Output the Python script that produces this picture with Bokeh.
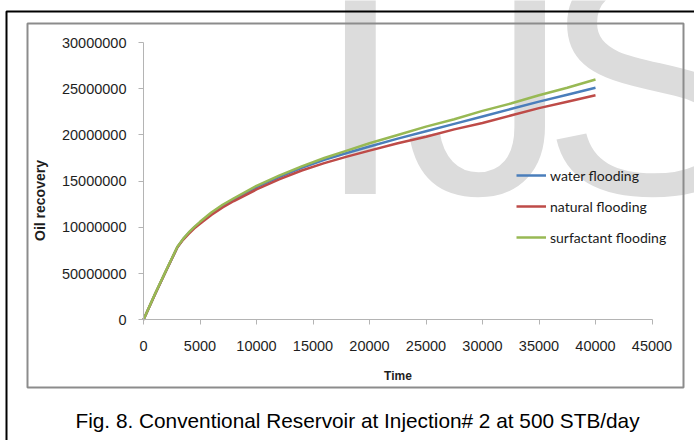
import math
from bokeh.plotting import figure
from bokeh.models import FixedTicker, BoxAnnotation, Label, Legend, Range1d
from bokeh.embed import file_html
from bokeh.resources import INLINE

# ---- data ----
time = [0, 1000, 2000, 3000, 3500, 4000, 4500, 5000, 6000, 7000, 8000, 10000, 12000, 14000,
        16000, 18000, 20000, 22500, 25000, 27500, 30000, 32500, 35000, 37500, 40000]
water = [0, 2.7e6, 5.3e6, 7.85e6, 8.7e6, 9.4e6, 10.0e6, 10.5e6, 11.5e6, 12.35e6, 13.05e6, 14.35e6,
         15.45e6, 16.45e6, 17.3e6, 18.05e6, 18.75e6, 19.6e6, 20.4e6, 21.2e6, 22.0e6, 22.8e6,
         23.6e6, 24.35e6, 25.1e6]
natural = [0, 2.7e6, 5.3e6, 7.85e6, 8.65e6, 9.3e6, 9.9e6, 10.4e6, 11.35e6, 12.15e6, 12.85e6, 14.1e6,
           15.2e6, 16.15e6, 16.95e6, 17.65e6, 18.3e6, 19.1e6, 19.8e6, 20.6e6, 21.3e6, 22.1e6,
           22.9e6, 23.6e6, 24.3e6]
surfactant = [0, 2.75e6, 5.35e6, 7.9e6, 8.75e6, 9.45e6, 10.05e6, 10.6e6, 11.6e6, 12.45e6, 13.15e6, 14.5e6,
              15.6e6, 16.6e6, 17.5e6, 18.3e6, 19.1e6, 20.0e6, 20.9e6, 21.7e6, 22.6e6, 23.4e6,
              24.3e6, 25.1e6, 26.0e6]

x_ticks = [0, 5000, 10000, 15000, 20000, 25000, 30000, 35000, 40000, 45000]
y_ticks = [0, 5000000, 10000000, 15000000, 20000000, 25000000, 30000000]
y_tick_labels = ["0", "50000000", "10000000", "15000000", "20000000", "25000000", "30000000"]
series_names = ["water flooding", "natural flooding", "surfactant flooding"]
series_colors = ["#4a7ebb", "#be4b48", "#98b954"]
x_title = "Time"
y_title = "Oil recovery"
caption = "Fig. 8. Conventional Reservoir at Injection# 2 at 500 STB/day"

# ---- layout (pixels) ----
W, H = 694, 440
X0_PX, X1_PX = 143.0, 651.5      # x = 0 and x = 45000
Y0_PX, Y1_PX = 319.3, 42.0       # y = 0 and y = 30M (from top)
x_min, x_max = x_ticks[0], x_ticks[-1]
y_min, y_max = y_ticks[0], y_ticks[-1]
sx = (X1_PX - X0_PX) / (x_max - x_min)
sy = (Y0_PX - Y1_PX) / (y_max - y_min)
xr = Range1d(x_min - X0_PX / sx, x_max + (W - X1_PX) / sx)
yr = Range1d(y_min - (H - Y0_PX) / sy, y_max + Y1_PX / sy)

p = figure(width=W, height=H, output_backend="svg", toolbar_location=None,
           x_range=xr, y_range=yr, min_border=0,
           min_border_left=0, min_border_right=0, min_border_top=0, min_border_bottom=0)
p.outline_line_color = None
p.grid.visible = False
p.background_fill_color = "white"
p.border_fill_color = "white"

# watermark
wm_col = "#dcdcdc"
for txt, xo in [("I", 314), ("J", 404), ("S", 541)]:
    p.add_layout(Label(x=xo, y=361, x_units="screen", y_units="screen", text=txt,
                       text_font="Liberation Sans", text_font_size="330px",
                       text_color=wm_col, text_align="left", text_baseline="alphabetic",
                       level="underlay"))

# frames (chart area and page border)
p.add_layout(BoxAnnotation(left=27, right=683, top=417, bottom=53,
                           left_units="screen", right_units="screen",
                           top_units="screen", bottom_units="screen",
                           fill_color=None, fill_alpha=0,
                           line_color="#8c8c8c", line_alpha=1.0, line_width=2,
                           level="overlay"))
p.add_layout(BoxAnnotation(left=6, right=720, top=429, bottom=-20,
                           left_units="screen", right_units="screen",
                           top_units="screen", bottom_units="screen",
                           fill_color=None, fill_alpha=0,
                           line_color="black", line_alpha=1.0, line_width=2,
                           level="overlay"))

renderers = []
for ys, name, col in zip([water, natural, surfactant], series_names, series_colors):
    r = p.line(time, ys, line_color=col, line_width=2.5)
    renderers.append((name, [r]))

legend = Legend(items=renderers, location=(516, 193), orientation="vertical",
                glyph_width=30, glyph_height=20, label_height=20, spacing=11,
                label_standoff=4, padding=0, margin=0,
                border_line_color=None, background_fill_alpha=0,
                label_text_font="Lato", label_text_font_size="14px",
                label_text_color="#1a1a1a")
p.add_layout(legend)

# axes
ax_col = "#b4b4b4"
for ax in (p.xaxis[0], p.yaxis[0]):
    ax.fixed_location = 0
    ax.axis_line_color = ax_col
    ax.major_tick_line_color = ax_col
    ax.minor_tick_line_color = None
    ax.major_tick_out = 5
    ax.major_tick_in = 0
    ax.major_label_text_font = "Liberation Sans"
    ax.major_label_text_font_size = "14.5px"
    ax.major_label_text_color = "#1e1e1e"
    ax.axis_label_text_font = "Liberation Sans"
    ax.axis_label_text_font_style = "bold"
    ax.axis_label_text_color = "#1e1e1e"

p.xaxis.bounds = (x_min, x_max)
p.yaxis.bounds = (y_min, y_max)
p.xaxis.ticker = FixedTicker(ticks=x_ticks)
p.yaxis.ticker = FixedTicker(ticks=y_ticks)
p.yaxis.major_label_overrides = {t: l for t, l in zip(y_ticks, y_tick_labels)}
p.xaxis.major_label_standoff = 16
p.yaxis.major_label_standoff = 12
p.xaxis.axis_label = x_title
p.xaxis.axis_label_text_font_size = "12px"
p.xaxis.axis_label_standoff = 15

p.add_layout(Label(x=39, y=240, x_units="screen", y_units="screen", text=y_title,
                   angle=math.pi / 2, text_font="Liberation Sans", text_font_style="bold",
                   text_font_size="14px", text_color="#1e1e1e",
                   text_align="center", text_baseline="middle"))

p.add_layout(Label(x=357, y=20, x_units="screen", y_units="screen", text=caption,
                   text_font="Liberation Sans", text_font_size="20.8px", text_color="black",
                   text_align="center", text_baseline="middle"))

open("out.html", "w").write(file_html(p, INLINE))
